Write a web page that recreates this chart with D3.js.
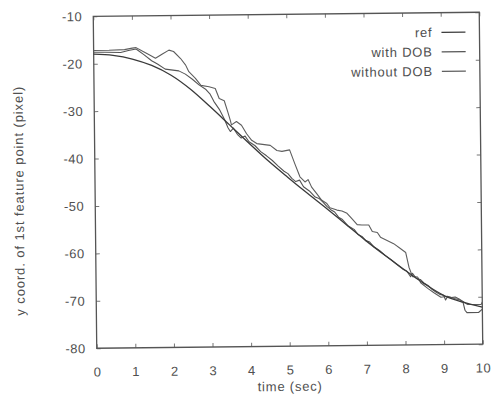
<!DOCTYPE html>
<html>
<head>
<meta charset="utf-8">
<script src="https://cdn.jsdelivr.net/npm/d3@7"></script>
<style>
  html, body { margin: 0; padding: 0; background: #ffffff; }
  svg { display: block; }
  text { font-family: "Liberation Sans", Arial, sans-serif; fill: #505050; }
</style>
</head>
<body>
<svg id="chart" width="497" height="398"></svg>
<script>
// ---------- data ----------
const seriesNames = ["ref", "with DOB", "without DOB"];
const xTicks = [0, 1, 2, 3, 4, 5, 6, 7, 8, 9, 10];
const yTicks = [-80, -70, -60, -50, -40, -30, -20, -10];

const timeRef = [0, 0.5, 1, 1.5, 2, 2.5, 3, 3.5, 4, 4.5, 5, 5.5, 6, 6.5, 7, 7.5, 8, 8.5, 9, 9.5, 10];
const refValues = [-18.0, -18.3, -19.1, -20.5, -22.6, -25.6, -29.3, -33.2, -37.1, -40.9, -44.4,
                   -47.8, -51.1, -54.5, -57.9, -61.1, -64.2, -67.1, -69.6, -71.1, -72.2];

const timeWith = [0, 0.3, 0.7, 0.9, 1.1, 1.3, 1.5, 1.65, 1.85, 2.2, 2.37, 2.55, 2.72, 2.9, 3.0, 3.1,
  3.24, 3.37, 3.46, 3.52, 3.6, 3.7, 3.8, 3.9, 4.0, 4.15, 4.3, 4.45, 4.6, 4.75, 4.9, 5.0, 5.1, 5.2,
  5.3, 5.4, 5.55, 5.7, 5.8, 5.9, 6.0, 6.1, 6.2, 6.3, 6.4, 6.55, 6.7, 6.8, 6.9, 7.0, 7.1, 7.2, 7.35,
  7.5, 7.65, 7.8, 7.95, 8.05, 8.15, 8.2, 8.3, 8.4, 8.5, 8.6, 8.7, 8.8, 8.9, 9.0, 9.05, 9.1, 9.2,
  9.3, 9.4, 9.5, 9.55, 9.6, 9.9, 10.0];
const withDOB = [-17.6, -17.6, -17.7, -17.3, -17.0, -18.2, -19.5, -20.2, -21.3, -21.7, -22.4, -23.5,
  -24.7, -25.7, -26.6, -28.2, -29.9, -32.0, -33.8, -34.6, -33.9, -35.2, -36.0, -35.6, -36.8, -37.6,
  -38.9, -39.8, -40.8, -42.0, -43.1, -43.6, -44.6, -45.3, -45.0, -46.4, -47.3, -48.6, -48.9, -49.7,
  -50.6, -51.3, -51.8, -52.9, -53.4, -54.8, -55.5, -56.6, -57.0, -57.9, -58.2, -59.2, -60.0, -61.1,
  -62.0, -63.0, -64.0, -64.4, -65.6, -64.9, -66.0, -66.2, -67.0, -67.5, -68.3, -68.9, -69.4, -69.6,
  -70.6, -69.9, -70.1, -70.0, -70.4, -71.1, -72.8, -73.3, -73.3, -72.6];

const timeWithout = [0, 0.4, 0.8, 1.0, 1.1, 1.27, 1.45, 1.6, 1.78, 1.95, 2.07, 2.25, 2.38, 2.46, 2.63,
  2.77, 2.98, 3.14, 3.24, 3.37, 3.46, 3.52, 3.55, 3.68, 3.81, 3.94, 4.07, 4.2, 4.55, 4.72, 4.85, 5.05,
  5.18, 5.31, 5.44, 5.52, 5.61, 5.74, 5.87, 6.0, 6.08, 6.26, 6.39, 6.52, 6.65, 6.78, 6.9, 7.08, 7.17,
  7.3, 7.38, 7.55, 7.72, 7.9, 8.03, 8.11, 8.2, 8.33, 8.41, 8.59, 8.76, 8.93, 9.1, 9.28, 9.45, 9.62,
  9.97, 10.0];
const withoutDOB = [-17.2, -17.2, -17.1, -16.8, -16.7, -17.5, -18.3, -19.0, -18.1, -17.3, -17.6, -19.1,
  -20.5, -21.9, -23.3, -24.8, -25.1, -25.5, -27.6, -28.1, -30.5, -32.2, -33.2, -32.5, -33.3, -35.1,
  -36.5, -37.2, -37.6, -38.7, -38.9, -38.6, -41.5, -44.3, -45.4, -44.9, -46.5, -47.9, -49.3, -50.0,
  -50.9, -51.4, -51.6, -52.1, -53.3, -54.5, -54.6, -54.6, -56.0, -56.2, -57.2, -57.9, -58.6, -59.7,
  -60.5, -63.6, -65.6, -65.7, -66.9, -68.1, -69.1, -70.0, -69.8, -70.3, -70.7, -71.6, -71.6, -71.1];

// ---------- layout ----------
const svg = d3.select("#chart");
const frame = { left: 95, top: 14.25, width: 386, height: 332 };
const cx = frame.left + frame.width / 2, cy = frame.top + frame.height / 2;
const fontSize = 13;
const fontFamily = '"Liberation Sans", Arial, sans-serif';

const root = svg.append("g").attr("transform", `rotate(-0.6, ${cx}, ${cy})`);
const g = root.append("g").attr("transform", `translate(${frame.left},${frame.top})`);

const x = d3.scaleLinear().domain([0, 10]).range([0, frame.width]);
const y = d3.scaleLinear().domain([-80, -10]).range([frame.height, 0]);

// axes (inward ticks), plain hyphen minus like the original
const fmt = d => String(d);
const axStroke = "#555";
const axBottom = g.append("g").attr("transform", `translate(0,${frame.height})`)
  .call(d3.axisBottom(x).tickValues(xTicks).tickFormat(fmt).tickSize(-4).tickPadding(19));
const axTop = g.append("g")
  .call(d3.axisTop(x).tickValues(xTicks).tickFormat("").tickSize(-4));
const axLeft = g.append("g")
  .call(d3.axisLeft(y).tickValues(yTicks).tickFormat(fmt).tickSize(-4).tickPadding(11));
const axRight = g.append("g").attr("transform", `translate(${frame.width},0)`)
  .call(d3.axisRight(y).tickValues(yTicks).tickFormat("").tickSize(-4));

[axBottom, axTop, axLeft, axRight].forEach(a => {
  a.select(".domain").remove();
  a.selectAll(".tick line").attr("stroke", "#777").attr("stroke-width", 1);
  a.selectAll(".tick text").attr("font-size", fontSize).attr("fill", "#505050")
    .attr("font-family", fontFamily).attr("letter-spacing", 0.5);
});

// frame
g.append("rect").attr("x", 0).attr("y", 0).attr("width", frame.width).attr("height", frame.height)
  .attr("fill", "none").attr("stroke", axStroke).attr("stroke-width", 1.3);

// axis titles
root.append("text")
  .attr("transform", `translate(19,198) rotate(-90)`)
  .attr("text-anchor", "middle").attr("dominant-baseline", "central")
  .attr("font-size", fontSize).attr("letter-spacing", 0.9)
  .text("y coord. of 1st feature point (pixel)");
root.append("text")
  .attr("x", frame.left + x(5)).attr("y", 391)
  .attr("text-anchor", "middle")
  .attr("font-size", fontSize).attr("letter-spacing", 0.8)
  .text("time (sec)");

// lines
const series = [
  { name: seriesNames[0], t: timeRef, v: refValues, color: "#3a3a3a", width: 1.3, curve: d3.curveMonotoneX },
  { name: seriesNames[1], t: timeWith, v: withDOB, color: "#555555", width: 1.1, curve: d3.curveLinear },
  { name: seriesNames[2], t: timeWithout, v: withoutDOB, color: "#5e5e5e", width: 1.1, curve: d3.curveLinear }
];

series.slice().reverse().forEach(s => {
  const pts = s.t.map((t, i) => [t, s.v[i]]);
  const line = d3.line().x(d => x(d[0])).y(d => y(d[1])).curve(s.curve);
  g.append("path").datum(pts).attr("d", line)
    .attr("fill", "none").attr("stroke", s.color).attr("stroke-width", s.width)
    .attr("stroke-linejoin", "round");
});

// legend
const legendY = [34, 53.5, 73];
series.forEach((s, i) => {
  const ly = legendY[i] - frame.top;
  g.append("text").attr("x", 434 - frame.left).attr("y", ly)
    .attr("text-anchor", "end").attr("dominant-baseline", "central")
    .attr("font-size", fontSize).attr("letter-spacing", 0.8).text(s.name);
  g.append("line").attr("x1", 443 - frame.left).attr("x2", 467 - frame.left)
    .attr("y1", ly).attr("y2", ly)
    .attr("stroke", s.color).attr("stroke-width", s.width);
});
</script>
</body>
</html>
